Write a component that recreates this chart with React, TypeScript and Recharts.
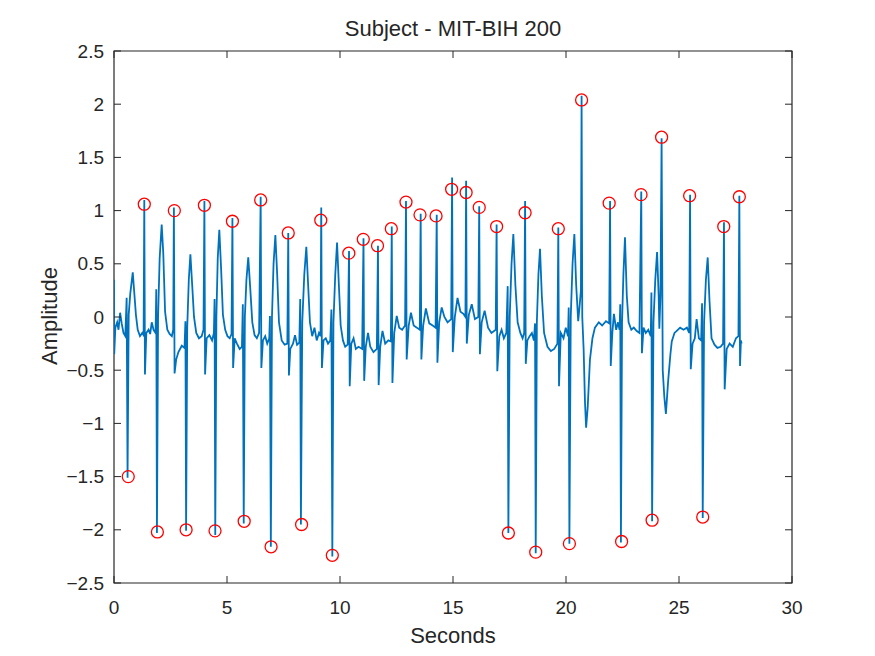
import React from 'react';
import { ComposedChart, Line, Scatter, XAxis, YAxis, ReferenceArea } from 'recharts';

// ECG trace (time in s, amplitude)
const seconds = [
  0.0, 0.01, 0.06, 0.14, 0.2, 0.27, 0.34, 0.42, 0.5, 0.56, 0.6, 0.65, 0.72, 0.83, 0.9, 0.97, 1.05, 1.15, 1.25, 1.31,
  1.34, 1.37, 1.43, 1.53, 1.6, 1.67, 1.75, 1.84, 1.87, 1.9, 1.95, 2.02, 2.11, 2.18, 2.26, 2.36, 2.46, 2.56, 2.62, 2.65,
  2.68, 2.75, 2.85, 3.0, 3.12, 3.16, 3.19, 3.24, 3.31, 3.38, 3.46, 3.54, 3.64, 3.76, 3.88, 3.96, 4.0, 4.03, 4.1, 4.22,
  4.34, 4.42, 4.45, 4.48, 4.53, 4.59, 4.66, 4.74, 4.82, 4.92, 5.02, 5.12, 5.2, 5.24, 5.27, 5.34, 5.44, 5.56, 5.66, 5.7,
  5.74, 5.79, 5.86, 5.94, 6.02, 6.12, 6.22, 6.32, 6.42, 6.49, 6.52, 6.59, 6.69, 6.78, 6.87, 6.9, 6.94, 6.99, 7.06, 7.14,
  7.22, 7.3, 7.42, 7.55, 7.67, 7.71, 7.74, 7.8, 7.92, 8.01, 8.1, 8.2, 8.24, 8.27, 8.33, 8.42, 8.51, 8.59, 8.67, 8.77,
  8.87, 8.97, 9.07, 9.14, 9.17, 9.2, 9.27, 9.37, 9.47, 9.57, 9.62, 9.66, 9.71, 9.79, 9.87, 9.95, 10.03, 10.13, 10.23, 10.34,
  10.4, 10.43, 10.5, 10.6, 10.7, 10.82, 10.98, 11.04, 11.07, 11.14, 11.24, 11.34, 11.48, 11.63, 11.68, 11.71, 11.78, 11.88, 12.0, 12.14,
  12.25, 12.29, 12.32, 12.4, 12.51, 12.62, 12.75, 12.88, 12.92, 12.95, 13.04, 13.14, 13.26, 13.4, 13.53, 13.57, 13.6, 13.68, 13.8, 13.95,
  14.1, 14.23, 14.28, 14.31, 14.39, 14.5, 14.62, 14.76, 14.92, 14.96, 14.99, 15.08, 15.2, 15.33, 15.46, 15.55, 15.58, 15.61, 15.7, 15.83,
  15.97, 16.12, 16.16, 16.19, 16.27, 16.4, 16.55, 16.7, 16.89, 16.93, 16.96, 17.05, 17.15, 17.25, 17.36, 17.42, 17.45, 17.51, 17.59, 17.67,
  17.76, 17.86, 17.98, 18.08, 18.15, 18.19, 18.22, 18.29, 18.39, 18.49, 18.58, 18.63, 18.66, 18.71, 18.78, 18.85, 18.93, 19.03, 19.18, 19.33,
  19.48, 19.62, 19.66, 19.69, 19.77, 19.89, 19.99, 20.09, 20.12, 20.15, 20.21, 20.29, 20.37, 20.45, 20.54, 20.6, 20.66, 20.69, 20.72, 20.78,
  20.84, 20.89, 20.96, 21.06, 21.17, 21.28, 21.45, 21.6, 21.77, 21.91, 21.95, 21.98, 22.05, 22.12, 22.22, 22.3, 22.37, 22.4, 22.43, 22.48,
  22.54, 22.61, 22.69, 22.77, 22.89, 23.0, 23.12, 23.25, 23.33, 23.36, 23.43, 23.53, 23.64, 23.75, 23.78, 23.81, 23.87, 23.95, 24.03, 24.1,
  24.13, 24.18, 24.23, 24.28, 24.35, 24.42, 24.52, 24.62, 24.68, 24.8, 24.9, 25.05, 25.2, 25.35, 25.45, 25.49, 25.52, 25.6, 25.7, 25.78,
  25.88, 25.98, 26.02, 26.05, 26.11, 26.19, 26.27, 26.35, 26.44, 26.57, 26.7, 26.84, 26.95, 26.99, 27.02, 27.11, 27.24, 27.38, 27.52, 27.63,
  27.67, 27.7, 27.74, 27.77,
];

const amplitude = [
  0.35, -0.35, -0.1, -0.05, -0.12, 0.04, -0.06, -0.15, -0.18, 0.18, -1.51, 0.02, 0.22, 0.42, 0.22, 0.02, -0.12, -0.18, -0.15, -0.17,
  1.1, -0.54, -0.15, -0.12, -0.16, -0.05, -0.12, -0.15, 0.26, -2.03, 0.0, 0.55, 0.87, 0.6, 0.05, -0.12, -0.16, -0.18, -0.12, 1.03,
  -0.53, -0.4, -0.33, -0.27, -0.29, -0.04, -2.01, -0.1, 0.35, 0.59, 0.3, 0.0, -0.15, -0.2, -0.18, -0.12, 1.09, -0.54, -0.2, -0.17,
  -0.22, -0.15, 0.17, -2.05, 0.0, 0.55, 0.82, 0.45, 0.02, -0.12, -0.18, -0.2, -0.16, 0.93, -0.48, -0.2, -0.25, -0.3, -0.28, 0.12,
  -1.94, 0.0, 0.35, 0.56, 0.3, -0.05, -0.17, -0.2, -0.15, 1.13, -0.48, -0.22, -0.18, -0.25, -0.2, 0.01, -2.16, 0.0, 0.5, 0.77,
  0.4, -0.05, -0.22, -0.26, -0.25, 0.79, -0.55, -0.3, -0.25, -0.17, -0.26, -0.24, 0.17, -1.95, -0.05, 0.4, 0.66, 0.3, -0.05, -0.18,
  -0.1, -0.22, -0.15, -0.18, 1.03, -0.48, -0.22, -0.2, -0.25, -0.22, 0.07, -2.25, -0.05, 0.4, 0.7, 0.3, -0.08, -0.22, -0.28, -0.26,
  0.62, -0.65, -0.25, -0.2, -0.3, -0.28, -0.3, 0.74, -0.6, -0.28, -0.15, -0.28, -0.33, -0.3, 0.67, -0.64, -0.28, -0.13, -0.25, -0.22,
  -0.23, 0.85, -0.62, -0.15, 0.01, -0.1, -0.12, -0.08, 1.09, -0.4, -0.08, 0.04, -0.08, -0.1, -0.12, 0.97, -0.4, -0.08, 0.08, -0.06,
  -0.08, -0.1, 0.96, -0.43, -0.05, 0.09, 0.0, -0.05, -0.02, 1.31, -0.33, 0.0, 0.18, 0.05, 0.03, 0.0, 1.28, -0.25, 0.02, 0.12,
  -0.02, 0.0, 1.04, -0.35, -0.05, 0.06, -0.1, -0.15, -0.12, 0.87, -0.51, -0.18, -0.12, -0.2, -0.15, 0.29, -2.03, 0.0, 0.5, 0.78,
  0.3, -0.05, -0.15, -0.2, -0.15, 1.09, -0.44, -0.22, -0.18, -0.15, -0.22, -0.06, -2.22, -0.05, 0.4, 0.64, 0.2, -0.15, -0.28, -0.32,
  -0.3, -0.25, 0.84, -0.65, -0.15, -0.2, -0.1, -0.18, 0.09, -2.13, 0.0, 0.5, 0.78, 0.3, -0.04, 0.1, 0.25, 2.08, 0.0, -0.3,
  -0.8, -1.04, -0.85, -0.4, -0.2, -0.1, -0.05, -0.08, -0.04, -0.06, 1.09, -0.46, -0.15, 0.03, -0.12, -0.05, -0.12, 0.12, -2.12, -0.05,
  0.4, 0.75, 0.2, -0.05, -0.12, -0.1, -0.13, -0.15, 1.18, -0.34, -0.1, -0.15, -0.12, -0.18, 0.23, -1.92, -0.05, 0.35, 0.61, 0.2,
  -0.11, 0.2, 1.68, -0.5, -0.75, -0.91, -0.6, -0.35, -0.23, -0.15, -0.13, -0.1, -0.12, -0.1, -0.15, 1.15, -0.49, -0.25, -0.2, -0.02,
  -0.2, -0.22, 0.13, -1.89, -0.05, 0.35, 0.56, 0.15, -0.2, -0.26, -0.29, -0.28, -0.25, 0.89, -0.68, -0.3, -0.25, -0.28, -0.2, -0.18,
  1.14, -0.46, -0.22, -0.25,
];

// detected R peaks (red circles above the baseline)
const peakSeconds = [
  1.34, 2.67, 4.0, 5.24, 6.49, 7.71, 9.15, 10.39, 11.03, 11.66, 12.27, 12.92, 13.54, 14.25,
  14.94, 15.58, 16.16, 16.93, 18.19, 19.66, 20.69, 21.91, 23.32, 24.23, 25.47, 26.98, 27.67,
];
const peakAmplitude = [
  1.06, 1.0, 1.05, 0.9, 1.1, 0.79, 0.91, 0.6, 0.73, 0.67, 0.83, 1.08, 0.96, 0.95,
  1.2, 1.17, 1.03, 0.85, 0.98, 0.83, 2.04, 1.07, 1.15, 1.69, 1.14, 0.85, 1.13,
];

// detected inverted beats (red circles below the baseline)
const troughSeconds = [0.63, 1.92, 3.19, 4.47, 5.76, 6.95, 8.3, 9.66, 17.45, 18.66, 20.15, 22.46, 23.81, 26.05];
const troughAmplitude = [-1.5, -2.02, -2.0, -2.01, -1.92, -2.16, -1.95, -2.24, -2.03, -2.21, -2.13, -2.11, -1.91, -1.88];

const xTicks = [0, 5, 10, 15, 20, 25, 30];
const yTicks = [-2.5, -2, -1.5, -1, -0.5, 0, 0.5, 1, 1.5, 2, 2.5];

const ecgData = seconds.map((t, i) => ({ t, v: amplitude[i] }));
const markerData = [
  ...peakSeconds.map((t, i) => ({ t, v: peakAmplitude[i] })),
  ...troughSeconds.map((t, i) => ({ t, v: troughAmplitude[i] })),
];

const AXIS = '#262626';
const FONT = '"Liberation Sans", Arial, Helvetica, sans-serif';
const BOX = { left: 114, right: 792, top: 51, bottom: 583 };
const TICK_LEN = 7;

const fmt = (v: number) => String(v).replace('-', '\u2212');

// ticks point inward on all four sides of the box (MATLAB style)
const XTick = (props: any) => {
  const { x, payload } = props;
  return (
    <g>
      <line x1={x} x2={x} y1={BOX.bottom} y2={BOX.bottom - TICK_LEN} stroke={AXIS} />
      <line x1={x} x2={x} y1={BOX.top} y2={BOX.top + TICK_LEN} stroke={AXIS} />
      <text x={x} y={BOX.bottom + 24} textAnchor="middle" dominantBaseline="central" fontSize={19} fontFamily={FONT} fill={AXIS}>
        {fmt(payload.value)}
      </text>
    </g>
  );
};

const YTick = (props: any) => {
  const { y, payload } = props;
  return (
    <g>
      <line x1={BOX.left} x2={BOX.left + TICK_LEN} y1={y} y2={y} stroke={AXIS} />
      <line x1={BOX.right} x2={BOX.right - TICK_LEN} y1={y} y2={y} stroke={AXIS} />
      <text x={BOX.left - 10} y={y} textAnchor="end" dominantBaseline="central" fontSize={19} fontFamily={FONT} fill={AXIS}>
        {fmt(payload.value)}
      </text>
    </g>
  );
};

const RingDot = (props: any) => {
  const { cx, cy } = props;
  return <circle cx={cx} cy={cy} r={6} fill="none" stroke="#FF0000" strokeWidth={1.3} />;
};

const labelStyle: React.CSSProperties = {
  position: 'absolute',
  fontFamily: FONT,
  fontSize: 22,
  lineHeight: '22px',
  color: AXIS,
  whiteSpace: 'nowrap',
};

export default function App() {
  return (
    <div style={{ position: 'absolute', left: 0, top: 0, width: 875, height: 656, background: '#fff' }}>
      <ComposedChart width={875} height={656} margin={{ top: BOX.top, right: 875 - BOX.right, bottom: 656 - BOX.bottom - 40, left: 0 }}>
        <XAxis
          xAxisId="b"
          type="number"
          dataKey="t"
          domain={[0, 30]}
          ticks={xTicks}
          interval={0}
          height={40}
          tickLine={false}
          axisLine={false}
          tick={<XTick />}
          allowDataOverflow
        />
        <YAxis
          yAxisId="l"
          type="number"
          dataKey="v"
          domain={[-2.5, 2.5]}
          ticks={yTicks}
          interval={0}
          width={BOX.left}
          tickLine={false}
          axisLine={false}
          tick={<YTick />}
          allowDataOverflow
        />
        <ReferenceArea
          xAxisId="b"
          yAxisId="l"
          x1={0}
          x2={30}
          y1={-2.5}
          y2={2.5}
          fill="none"
          fillOpacity={0}
          stroke={AXIS}
          strokeWidth={1.2}
          ifOverflow="visible"
        />
        <Line
          xAxisId="b"
          yAxisId="l"
          data={ecgData}
          dataKey="v"
          type="linear"
          stroke="#0072BD"
          strokeWidth={1.8}
          dot={false}
          activeDot={false}
          isAnimationActive={false}
        />
        <Scatter xAxisId="b" yAxisId="l" data={markerData} dataKey="v" shape={<RingDot />} isAnimationActive={false} />
      </ComposedChart>

      <div style={{ ...labelStyle, left: 253, width: 400, textAlign: 'center', top: 18 }}>Subject - MIT-BIH 200</div>
      <div style={{ ...labelStyle, left: 253, width: 400, textAlign: 'center', top: 625 }}>Seconds</div>
      <div
        style={{
          ...labelStyle,
          left: 50 - 100,
          top: 316 - 11,
          width: 200,
          textAlign: 'center',
          transform: 'rotate(-90deg)',
          transformOrigin: '50% 50%',
        }}
      >
        Amplitude
      </div>
    </div>
  );
}
